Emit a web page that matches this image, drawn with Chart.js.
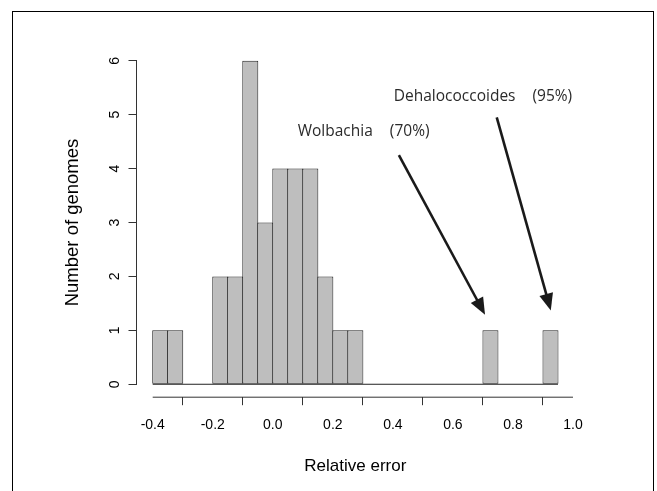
<!DOCTYPE html>
<html>
<head>
<meta charset="utf-8">
<script src="https://cdn.jsdelivr.net/npm/chart.js@4"></script>
<style>
  html, body { margin: 0; padding: 0; background: #fff; }
  #wrap { position: relative; width: 657px; height: 491px; overflow: hidden; }
  #frame { position: absolute; left: 12px; top: 11px; width: 642px; height: 500px;
           border: 1px solid #000; border-bottom: none; box-sizing: border-box; pointer-events: none; }
</style>
</head>
<body>
<div id="wrap">
  <canvas id="histChart" width="657" height="491"></canvas>
  <div id="frame"></div>
</div>
<script>
// histogram bins (left edges) and counts
const binStarts = [-0.40, -0.35, -0.30, -0.25, -0.20, -0.15, -0.10, -0.05, 0.00, 0.05, 0.10, 0.15, 0.20, 0.25,
                   0.30, 0.35, 0.40, 0.45, 0.50, 0.55, 0.60, 0.65, 0.70, 0.75, 0.80, 0.85, 0.90];
const counts    = [1, 1, 0, 0, 2, 2, 6, 3, 4, 4, 4, 2, 1, 1,
                   0, 0, 0, 0, 0, 0, 0, 0, 1, 0, 0, 0, 1];
const binWidth = 0.05;

const xTicks = [-0.4, -0.2, 0.0, 0.2, 0.4, 0.6, 0.8, 1.0];
const xTickLabels = ["-0.4", "-0.2", "0.0", "0.2", "0.4", "0.6", "0.8", "1.0"];
const yTicks = [0, 1, 2, 3, 4, 5, 6];
const yTickLabels = ["0", "1", "2", "3", "4", "5", "6"];

// annotations (data coordinates)
const noteText = ["Dehalococcoides", "(95%)", "Wolbachia", "(70%)"];
const noteX = [0.403, 0.865, 0.083, 0.39];
const noteY = [5.33, 5.33, 4.68, 4.68];
const arrowFromX = [0.746, 0.42];
const arrowFromY = [4.95, 4.25];
const arrowToX = [0.926, 0.707];
const arrowToY = [1.37, 1.29];

const axisFont = "'Liberation Sans', Arial, sans-serif";

// R-like usr range: data range plus 4%
const xLo = binStarts[0], xHi = binStarts[binStarts.length - 1] + binWidth;
const yHi = Math.max(...counts);

function drawArrow(c, x1, y1, x2, y2) {
  const ang = Math.atan2(y2 - y1, x2 - x1);
  const headLen = 17, headHalf = 7;
  const bx = x2 - headLen * Math.cos(ang), by = y2 - headLen * Math.sin(ang);
  c.beginPath();
  c.moveTo(x1, y1);
  c.lineTo(bx + 2 * Math.cos(ang), by + 2 * Math.sin(ang));
  c.stroke();
  c.beginPath();
  c.moveTo(x2, y2);
  c.lineTo(bx + headHalf * Math.sin(ang), by - headHalf * Math.cos(ang));
  c.lineTo(bx - headHalf * Math.sin(ang), by + headHalf * Math.cos(ang));
  c.closePath();
  c.fill();
}

const rStyle = {
  id: "rStyle",
  beforeDatasetsDraw(chart) {
    const { ctx, scales: { x, y } } = chart;
    ctx.save();
    ctx.strokeStyle = "#222";
    ctx.lineWidth = 1;
    ctx.beginPath();
    ctx.moveTo(x.getPixelForValue(xLo), y.getPixelForValue(0));
    ctx.lineTo(x.getPixelForValue(xHi), y.getPixelForValue(0));
    ctx.stroke();
    ctx.restore();
  },
  afterDraw(chart) {
    const { ctx, chartArea, scales: { x, y } } = chart;
    ctx.save();
    // detached axis lines spanning first..last tick
    ctx.strokeStyle = "#333";
    ctx.lineWidth = 1;
    ctx.beginPath();
    ctx.moveTo(x.getPixelForValue(xTicks[0]), chartArea.bottom);
    ctx.lineTo(x.getPixelForValue(xTicks[xTicks.length - 1]), chartArea.bottom);
    ctx.moveTo(chartArea.left, y.getPixelForValue(yTicks[0]));
    ctx.lineTo(chartArea.left, y.getPixelForValue(yTicks[yTicks.length - 1]));
    ctx.stroke();

    // notes
    ctx.fillStyle = "#2b2b2b";
    ctx.font = "15.5px 'Open Sans', sans-serif";
    ctx.textBaseline = "middle";
    ctx.textAlign = "left";
    noteText.forEach((t, i) => {
      ctx.fillText(t, x.getPixelForValue(noteX[i]), y.getPixelForValue(noteY[i]));
    });

    // arrows
    ctx.strokeStyle = "#1a1a1a";
    ctx.fillStyle = "#1a1a1a";
    ctx.lineWidth = 2.6;
    arrowFromX.forEach((v, i) => {
      drawArrow(ctx,
        x.getPixelForValue(v), y.getPixelForValue(arrowFromY[i]),
        x.getPixelForValue(arrowToX[i]), y.getPixelForValue(arrowToY[i]));
    });
    ctx.restore();
  }
};

const ctx = document.getElementById("histChart").getContext("2d");
const histChart = new Chart(ctx, {
  type: "bar",
  data: {
    datasets: [{
      data: binStarts.map((s, i) => ({ x: s + binWidth / 2, y: counts[i] })),
      backgroundColor: "#bebebe",
      borderColor: "#222",
      borderWidth: 1,
      borderSkipped: false,
      barPercentage: 16 / 15,
      categoryPercentage: 1
    }]
  },
  options: {
    responsive: false,
    animation: false,
    events: [],
    layout: { padding: { top: 47.8, right: 82.8, left: 0, bottom: 0 } },
    plugins: { legend: { display: false }, tooltip: { enabled: false } },
    scales: {
      x: {
        type: "linear",
        offset: false,
        min: xLo - 0.04 * (xHi - xLo),
        max: xHi + 0.04 * (xHi - xLo),
        afterBuildTicks: s => { s.ticks = xTicks.map(v => ({ value: v })); },
        afterFit: s => { s.height = 93.8; },
        grid: { drawOnChartArea: false, drawTicks: true, tickLength: 8, color: "#333", lineWidth: 1 },
        border: { display: false },
        ticks: {
          autoSkip: false, maxRotation: 0, minRotation: 0, padding: 12,
          color: "#000", font: { family: axisFont, size: 14 },
          callback: (v, i) => xTickLabels[i]
        },
        title: {
          display: true, text: "Relative error", color: "#000",
          font: { family: axisFont, size: 17 }, padding: { top: 0, bottom: 14 }
        }
      },
      y: {
        min: -0.04 * yHi,
        max: yHi * 1.04,
        afterBuildTicks: s => { s.ticks = yTicks.map(v => ({ value: v })); },
        afterFit: s => { s.width = 136.5; },
        grid: { drawOnChartArea: false, drawTicks: true, tickLength: 8, color: "#333", lineWidth: 1 },
        border: { display: false },
        ticks: {
          autoSkip: false, minRotation: 90, maxRotation: 90, crossAlign: "center", padding: 9,
          color: "#000", font: { family: axisFont, size: 14 },
          callback: (v, i) => yTickLabels[i]
        },
        title: {
          display: true, text: "Number of genomes", color: "#000",
          font: { family: axisFont, size: 18.5 }, padding: { top: 62, bottom: 0 }
        }
      }
    }
  },
  plugins: [rStyle]
});
</script>
</body>
</html>
